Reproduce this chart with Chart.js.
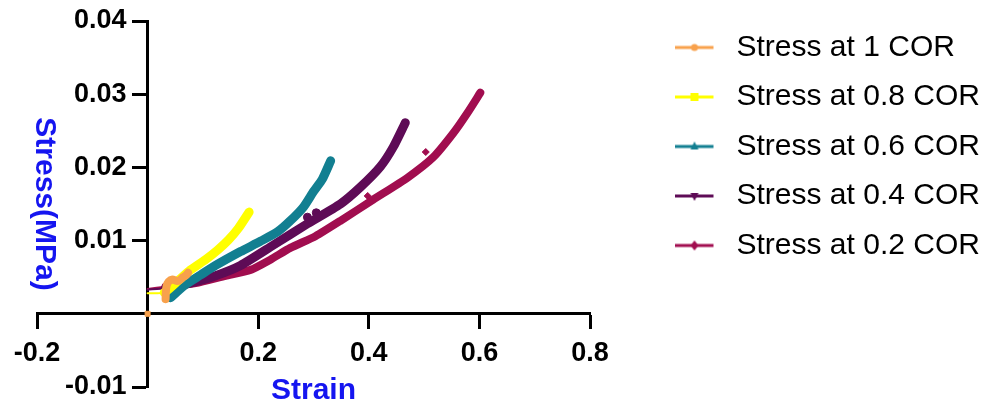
<!DOCTYPE html>
<html>
<head>
<meta charset="utf-8">
<script src="https://cdn.jsdelivr.net/npm/chart.js@4.4.1/dist/chart.umd.min.js"></script>
<style>
  html, body { margin: 0; padding: 0; background: #fff; }
  #wrap { width: 985px; height: 403px; }
</style>
</head>
<body>
<div id="wrap"><canvas id="stressChart" width="985" height="403"></canvas></div>
<script>
// ==========================================
// STRESS / STRAIN
// ==========================================
const seriesNames = [
  "Stress at 1 COR",
  "Stress at 0.8 COR",
  "Stress at 0.6 COR",
  "Stress at 0.4 COR",
  "Stress at 0.2 COR",
];
const seriesColors = ["#f8a14c", "#ffff00", "#127f91", "#5e0b56", "#a10d4f"];

// 1 COR (piccolo gruppo vicino all'origine)
const strain1 = [0.0325, 0.033, 0.0343, 0.038, 0.045, 0.052, 0.058, 0.064, 0.07, 0.073];
const stress1 = [0.002, 0.003, 0.0038, 0.0044, 0.0047, 0.0045, 0.0046, 0.005, 0.0053, 0.0056];

// 0.8 COR
const strain08 = [0.0, 0.03, 0.0506, 0.0777, 0.1048, 0.1265, 0.1463, 0.1644, 0.1836];
const stress08 = [0.0028, 0.0029, 0.0042, 0.006, 0.0074, 0.0087, 0.0101, 0.0117, 0.0139];

// 0.6 COR
const strain06 = [0.0416, 0.0687, 0.0958, 0.1229, 0.168, 0.204, 0.235, 0.258, 0.282, 0.3, 0.316, 0.331];
const stress06 = [0.0022, 0.004, 0.0053, 0.0066, 0.0085, 0.0099, 0.0112, 0.0127, 0.0146, 0.0167, 0.0184, 0.0209];

// 0.4 COR
const strain04 = [0.0, 0.0325, 0.0777, 0.1229, 0.168, 0.2276, 0.289, 0.3487, 0.3848, 0.421, 0.4444, 0.466];
const stress04 = [0.0033, 0.0035, 0.0042, 0.0052, 0.0066, 0.0094, 0.0123, 0.015, 0.0173, 0.0201, 0.0228, 0.0261];

// 0.2 COR
const strain02 = [0.0, 0.0325, 0.0867, 0.141, 0.186, 0.222, 0.258, 0.3035, 0.3487, 0.408, 0.47, 0.5167, 0.553, 0.578, 0.6016];
const stress02 = [0.0034, 0.0037, 0.0042, 0.0052, 0.006, 0.0074, 0.009, 0.0106, 0.0127, 0.0156, 0.0186, 0.0214, 0.0247, 0.0274, 0.0302];

// punti isolati
const originStrain1 = [0];
const originStress1 = [0];
const outStrain04 = [0.289, 0.305];
const outStress04 = [0.0132, 0.0138];
const outStrain02 = [0.398, 0.503];
const outStress02 = [0.0161, 0.0221];

// tick
const xTicks = [-0.2, 0, 0.2, 0.4, 0.6, 0.8];
const yTicks = [-0.01, 0, 0.01, 0.02, 0.03, 0.04];

const FONT = "'Liberation Sans', Arial, sans-serif";
const pointStyles = ["circle", "rect", "triangle", "triangleDown", "rectRot"];

function toPoints(xs, ys) {
  return xs.map((x, i) => ({ x: x, y: ys[i] }));
}

// ===== ICONE LEGENDA (linea + marker, con spazio a destra) =====
function makeLegendIcon(color, style) {
  const c = document.createElement("canvas");
  c.width = 47;
  c.height = 12;
  const g = c.getContext("2d");
  g.strokeStyle = color;
  g.lineWidth = 3;
  g.beginPath();
  g.moveTo(0, 6);
  g.lineTo(39, 6);
  g.stroke();
  g.fillStyle = color;
  g.beginPath();
  if (style === "circle") {
    g.arc(20, 6, 3.5, 0, Math.PI * 2);
  } else if (style === "rect") {
    g.rect(16, 2, 8, 8);
  } else if (style === "triangle") {
    g.moveTo(20, 1); g.lineTo(24, 9); g.lineTo(16, 9);
  } else if (style === "triangleDown") {
    g.moveTo(16, 3); g.lineTo(24, 3); g.lineTo(20, 11);
  } else {
    g.moveTo(20, 1); g.lineTo(24, 6); g.lineTo(20, 11); g.lineTo(16, 6);
  }
  g.fill();
  return c;
}
const legendIcons = seriesColors.map((c, i) => makeLegendIcon(c, pointStyles[i]));

const mainData = [
  [strain1, stress1],
  [strain08, stress08],
  [strain06, stress06],
  [strain04, stress04],
  [strain02, stress02],
];
const lineWidths = [8, 9, 9, 9, 8];

const datasets = mainData.map((d, i) => ({
  label: seriesNames[i],
  data: toPoints(d[0], d[1]),
  showLine: true,
  borderColor: seriesColors[i],
  backgroundColor: seriesColors[i],
  borderWidth: lineWidths[i],
  borderCapStyle: "round",
  borderJoinStyle: "round",
  pointRadius: 0,
  pointStyle: pointStyles[i],
  tension: 0.2,
  segment: {
    // primo tratto sottile verso l'asse
    borderWidth: (ctx) => (ctx.p0.parsed.x === 0 ? 2 : lineWidths[i]),
  },
}));

// punti isolati (senza legenda)
datasets.push(
  { label: "o1", data: toPoints(originStrain1, originStress1), pointStyle: "rect", pointRadius: 3.5, backgroundColor: seriesColors[0], borderColor: seriesColors[0] },
  { label: "o4", data: toPoints(outStrain04, outStress04), pointStyle: "triangleDown", pointRadius: 4, backgroundColor: seriesColors[3], borderColor: seriesColors[3] },
  { label: "o2", data: toPoints(outStrain02, outStress02), pointStyle: "rectRot", pointRadius: 3.5, backgroundColor: seriesColors[4], borderColor: seriesColors[4] }
);

const tickLabel = (v) => (Math.abs(v) < 1e-9 ? "" : String(+v.toFixed(2)));

// le etichette dell'asse Y centrato finiscono sulla linea: le sposto a sinistra
const shiftYLabels = {
  id: "shiftYLabels",
  beforeDraw(chart) {
    const s = chart.scales.y;
    s.getLabelItems(chart.chartArea).forEach((it) => {
      if (!it._shifted) {
        it.options.translation[0] -= 21;
        it._shifted = true;
      }
    });
  },
};

const ctx = document.getElementById("stressChart").getContext("2d");
new Chart(ctx, {
  type: "scatter",
  data: { datasets: datasets },
  plugins: [shiftYLabels],
  options: {
    responsive: false,
    animation: false,
    layout: { padding: { left: 37, top: 13, right: 0, bottom: 16 } },
    scales: {
      x: {
        type: "linear",
        position: { y: 0 },
        min: xTicks[0],
        max: xTicks[xTicks.length - 1],
        afterBuildTicks: (axis) => { axis.ticks = xTicks.map((v) => ({ value: v })); },
        grid: { drawOnChartArea: false, tickLength: 14, tickWidth: 3, tickColor: "#000" },
        border: { color: "#000", width: 3 },
        ticks: { callback: tickLabel, color: "#000", padding: 10, font: { family: FONT, size: 27, weight: "bold" } },
        title: { display: true, text: "Strain", color: "#1515f0", padding: { top: 0, bottom: 0 }, font: { family: FONT, size: 30, weight: "bold", lineHeight: 0.7 } },
      },
      y: {
        type: "linear",
        position: { x: 0 },
        min: yTicks[0],
        max: yTicks[yTicks.length - 1],
        afterBuildTicks: (axis) => { axis.ticks = yTicks.map((v) => ({ value: v })); },
        grid: { drawOnChartArea: false, tickLength: 14, tickWidth: 3, tickColor: "#000" },
        border: { color: "#000", width: 3 },
        ticks: { callback: tickLabel, color: "#000", padding: 5, font: { family: FONT, size: 27, weight: "bold", lineHeight: 0.7 } },
        title: { display: true, text: "Stress(MPa)", color: "#1515f0", padding: { top: 0, bottom: 19 }, font: { family: FONT, size: 30, weight: "bold" } },
      },
      // spazio in alto sopra l'area del grafico
      topGap: {
        type: "linear",
        axis: "x",
        position: "top",
        grid: { display: false },
        border: { display: false },
        ticks: { display: false },
        afterFit: (s) => { s.height = 8; },
      },
      // spazio vuoto tra grafico e legenda
      gap: {
        type: "linear",
        axis: "y",
        position: "right",
        grid: { display: false },
        border: { display: false },
        ticks: { display: false },
        afterFit: (s) => { s.width = 65; },
      },
    },
    plugins: {
      tooltip: { enabled: false },
      legend: {
        position: "right",
        align: "start",
        maxWidth: 330,
        labels: {
          usePointStyle: true,
          pointStyleWidth: 47,
          padding: 19.5,
          color: "#000",
          font: { family: FONT, size: 30 },
          filter: (item) => item.datasetIndex < 5,
          generateLabels: (chart) =>
            Chart.defaults.plugins.legend.labels.generateLabels(chart).map((item) => ({
              ...item,
              pointStyle: legendIcons[item.datasetIndex],
            })),
        },
      },
    },
  },
});
</script>
</body>
</html>
